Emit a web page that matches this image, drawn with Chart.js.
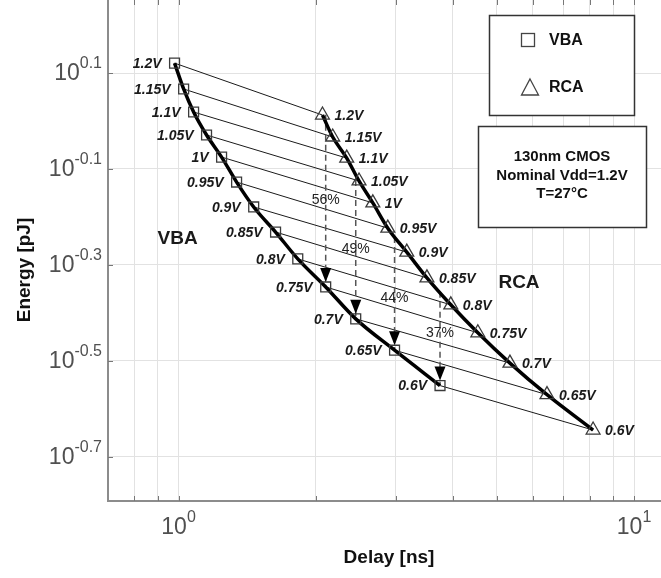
<!DOCTYPE html>
<html>
<head>
<meta charset="utf-8">
<script src="https://cdn.jsdelivr.net/npm/chart.js@4.4.1/dist/chart.umd.min.js"></script>
<style>
  html, body { margin: 0; padding: 0; background: #fff; }
  #wrap { width: 661px; height: 578px; }
</style>
</head>
<body>
<div id="wrap"><canvas id="chart" width="661" height="578"></canvas></div>
<script>
// supply voltages, high to low
const voltages = ['1.2V','1.15V','1.1V','1.05V','1V','0.95V','0.9V','0.85V','0.8V','0.75V','0.7V','0.65V','0.6V'];

// VBA: delay [ns] / energy [pJ]
const vbaDelay  = [0.98, 1.026, 1.079, 1.152, 1.243, 1.341, 1.462, 1.633, 1.827, 2.104, 2.449, 2.98, 3.75];
const vbaEnergy = [1.32, 1.166, 1.044, 0.935, 0.841, 0.746, 0.662, 0.587, 0.516, 0.451, 0.387, 0.333, 0.281];

// RCA: delay [ns] / energy [pJ]
const rcaDelay  = [2.07, 2.18, 2.34, 2.49, 2.67, 2.88, 3.17, 3.51, 3.96, 4.54, 5.34, 6.44, 8.13];
const rcaEnergy = [1.029, 0.926, 0.837, 0.750, 0.675, 0.598, 0.533, 0.471, 0.414, 0.362, 0.313, 0.269, 0.227];

// iso-delay arrows: start on the RCA curve, end at a VBA point
const arrowToVba     = [9, 10, 11, 12];
const arrowTopEnergy = [1.03, 0.753, 0.573, 0.441];
const savings        = ['56%', '49%', '44%', '37%'];
const savingsEnergy  = [0.684, 0.541, 0.428, 0.3615];

// axis ticks
const xGridValues   = [0.8, 0.9, 1, 2, 3, 4, 5, 6, 7, 8, 9, 10];
const xTickExps     = ['0', '1'];
const yTickExps     = ['0.1', '-0.1', '-0.3', '-0.5', '-0.7'];

const FONT = '"Liberation Sans", Arial, sans-serif';

const pts = (xs, ys) => xs.map((x, i) => ({ x, y: ys[i] }));

const connectorSets = voltages.map((v, i) => ({
  data: [{ x: vbaDelay[i], y: vbaEnergy[i] }, { x: rcaDelay[i], y: rcaEnergy[i] }],
  showLine: true, borderColor: '#1a1a1a', borderWidth: 1, pointRadius: 0, order: 4
}));

const arrowSets = arrowToVba.map((k, i) => ({
  data: [{ x: vbaDelay[k], y: arrowTopEnergy[i] }, { x: vbaDelay[k], y: vbaEnergy[k] }],
  showLine: true, borderColor: '#555', borderWidth: 1.5, borderDash: [6, 4], pointRadius: 0, order: 3
}));

const curveSets = [
  { data: pts(vbaDelay, vbaEnergy), showLine: true, borderColor: '#000', borderWidth: 3.5,
    cubicInterpolationMode: 'monotone', pointRadius: 0, order: 2 },
  { data: pts(rcaDelay, rcaEnergy), showLine: true, borderColor: '#000', borderWidth: 3.5,
    cubicInterpolationMode: 'monotone', pointRadius: 0, order: 2 }
];

const markerSets = [
  { label: 'VBA', data: pts(vbaDelay, vbaEnergy), pointStyle: 'rect', pointRadius: 7,
    pointBorderColor: '#3a3a3a', pointBackgroundColor: 'rgba(0,0,0,0)', pointBorderWidth: 1.3, order: 0 },
  { label: 'RCA', data: pts(rcaDelay, rcaEnergy), pointStyle: 'triangle', pointRadius: 8,
    pointBorderColor: '#3a3a3a', pointBackgroundColor: 'rgba(0,0,0,0)', pointBorderWidth: 1.3, order: 0 }
];

function powLabel(ctx, base, sup, x, y, align) {
  ctx.font = '23px ' + FONT;
  const wb = ctx.measureText(base).width;
  ctx.font = '16px ' + FONT;
  const ws = ctx.measureText(sup).width;
  let left = align === 'right' ? x - wb - ws : x - (wb + ws) / 2;
  ctx.textAlign = 'left';
  ctx.textBaseline = 'middle';
  ctx.font = '23px ' + FONT;
  ctx.fillText(base, left, y + 1);
  ctx.font = '16px ' + FONT;
  ctx.fillText(sup, left + wb, y - 9);
}

const annotations = {
  id: 'annotations',
  afterDatasetsDraw(chart) {
    const ctx = chart.ctx;
    const xs = chart.scales.x, ys = chart.scales.y;
    const area = chart.chartArea;
    ctx.save();

    // inner tick marks
    ctx.strokeStyle = '#777';
    ctx.lineWidth = 1;
    xGridValues.forEach(v => {
      const px = Math.round(xs.getPixelForValue(v)) + 0.5;
      ctx.beginPath();
      ctx.moveTo(px, area.bottom); ctx.lineTo(px, area.bottom - 5);
      ctx.moveTo(px, area.top); ctx.lineTo(px, area.top + 5);
      ctx.stroke();
    });
    yTickExps.forEach(e => {
      const py = Math.round(ys.getPixelForValue(Math.pow(10, +e))) + 0.5;
      ctx.beginPath();
      ctx.moveTo(area.left, py); ctx.lineTo(area.left + 5, py);
      ctx.stroke();
    });

    // arrow heads
    ctx.fillStyle = '#000';
    arrowToVba.forEach(k => {
      const px = xs.getPixelForValue(vbaDelay[k]);
      const tip = ys.getPixelForValue(vbaEnergy[k]) - 5;
      ctx.beginPath();
      ctx.moveTo(px - 5.5, tip - 14);
      ctx.lineTo(px + 5.5, tip - 14);
      ctx.lineTo(px, tip);
      ctx.closePath();
      ctx.fill();
    });

    // percentage labels
    ctx.fillStyle = '#222';
    ctx.font = '14px ' + FONT;
    ctx.textAlign = 'center';
    ctx.textBaseline = 'middle';
    arrowToVba.forEach((k, i) => {
      ctx.fillText(savings[i], xs.getPixelForValue(vbaDelay[k]), ys.getPixelForValue(savingsEnergy[i]));
    });

    // voltage labels
    ctx.fillStyle = '#1a1a1a';
    ctx.font = 'italic bold 14px ' + FONT;
    ctx.textAlign = 'right';
    voltages.forEach((v, i) => {
      ctx.fillText(v, xs.getPixelForValue(vbaDelay[i]) - 13, ys.getPixelForValue(vbaEnergy[i]) + 1);
    });
    ctx.textAlign = 'left';
    voltages.forEach((v, i) => {
      ctx.fillText(v, xs.getPixelForValue(rcaDelay[i]) + 12, ys.getPixelForValue(rcaEnergy[i]) + 1);
    });

    // series names
    ctx.font = 'bold 19px ' + FONT;
    ctx.textAlign = 'center';
    ctx.fillText('VBA', xs.getPixelForValue(0.995), ys.getPixelForValue(0.5676));
    ctx.fillText('RCA', xs.getPixelForValue(5.59), ys.getPixelForValue(0.46));

    // legend box
    ctx.fillStyle = '#fff';
    ctx.fillRect(489.5, 15.5, 145, 100);
    ctx.strokeStyle = '#333';
    ctx.lineWidth = 1.5;
    ctx.strokeRect(489.5, 15.5, 145, 100);
    ctx.strokeStyle = '#444';
    ctx.lineWidth = 1.3;
    ctx.strokeRect(521.5, 33.5, 13, 13);
    ctx.beginPath();
    ctx.moveTo(530, 79); ctx.lineTo(538.5, 95); ctx.lineTo(521.5, 95); ctx.closePath();
    ctx.stroke();
    ctx.fillStyle = '#111';
    ctx.font = 'bold 16px ' + FONT;
    ctx.textAlign = 'left';
    ctx.fillText('VBA', 549, 41);
    ctx.fillText('RCA', 549, 88);

    // conditions box
    ctx.fillStyle = '#fff';
    ctx.fillRect(478.5, 126.5, 168, 101);
    ctx.strokeStyle = '#333';
    ctx.lineWidth = 1.5;
    ctx.strokeRect(478.5, 126.5, 168, 101);
    ctx.fillStyle = '#111';
    ctx.font = 'bold 15px ' + FONT;
    ctx.textAlign = 'center';
    ctx.fillText('130nm CMOS', 562, 157);
    ctx.fillText('Nominal Vdd=1.2V', 562, 176);
    ctx.fillText('T=27\u00B0C', 562, 194);

    // tick labels
    ctx.fillStyle = '#505050';
    yTickExps.forEach(e => {
      powLabel(ctx, '10', e, 102, ys.getPixelForValue(Math.pow(10, +e)), 'right');
    });
    xTickExps.forEach(e => {
      powLabel(ctx, '10', e, xs.getPixelForValue(Math.pow(10, +e)), 527, 'center');
    });

    // axis titles
    ctx.fillStyle = '#111';
    ctx.font = 'bold 19px ' + FONT;
    ctx.textAlign = 'center';
    ctx.textBaseline = 'middle';
    ctx.fillText('Delay [ns]', 389, 558);
    ctx.translate(25, 270);
    ctx.rotate(-Math.PI / 2);
    ctx.fillText('Energy [pJ]', 0, 0);

    ctx.restore();
  }
};

function noPad(s) {
  s.paddingTop = 0; s.paddingBottom = 0; s.paddingLeft = 0; s.paddingRight = 0;
}

new Chart(document.getElementById('chart'), {
  type: 'scatter',
  data: { datasets: [...markerSets, ...curveSets, ...arrowSets, ...connectorSets] },
  options: {
    responsive: false,
    animation: false,
    layout: { padding: 0, autoPadding: false },
    plugins: { legend: { display: false }, tooltip: { enabled: false } },
    scales: {
      x: {
        type: 'logarithmic', min: 0.7, max: 11.46,
        afterBuildTicks: s => { s.ticks = xGridValues.map(v => ({ value: v })); },
        afterFit: s => { s.height = 77; noPad(s); },
        ticks: { display: false },
        grid: { color: '#e2e2e2', drawTicks: false },
        border: { color: '#8c8c8c', width: 2 }
      },
      y: {
        type: 'logarithmic', min: 0.1615, max: 1.787,
        afterBuildTicks: s => { s.ticks = yTickExps.map(e => ({ value: Math.pow(10, +e) })); },
        afterFit: s => { s.width = 108; noPad(s); },
        ticks: { display: false },
        grid: { color: '#e2e2e2', drawTicks: false },
        border: { color: '#8c8c8c', width: 2 }
      }
    }
  },
  plugins: [annotations]
});
</script>
</body>
</html>
